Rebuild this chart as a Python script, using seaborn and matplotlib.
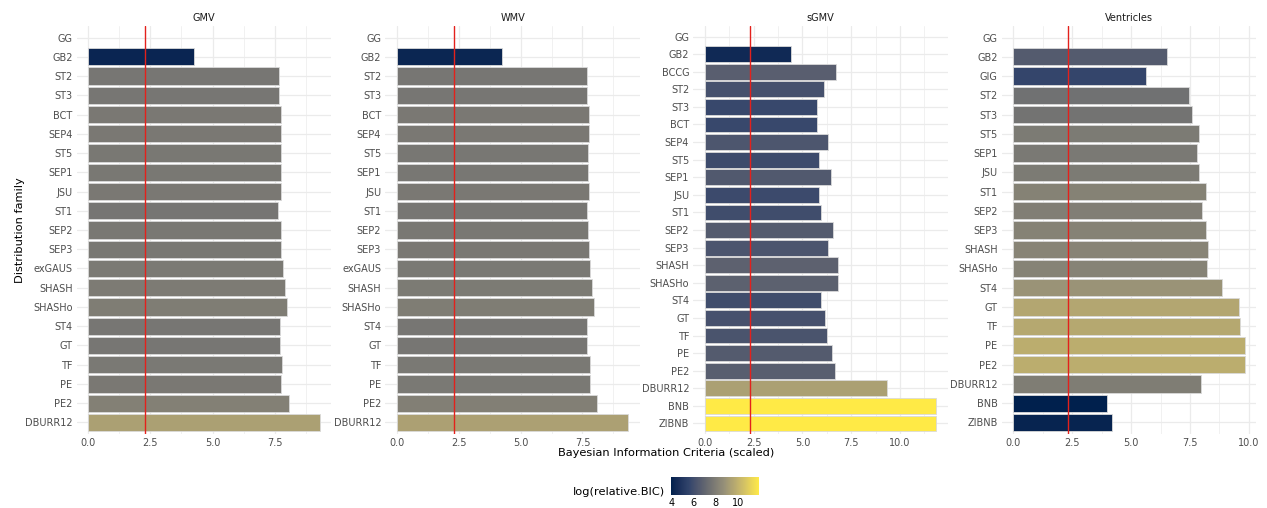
import numpy as np
import pandas as pd
import matplotlib
matplotlib.use("Agg")
import matplotlib.pyplot as plt
import seaborn as sns
from matplotlib.ticker import MultipleLocator, FormatStrFormatter
from matplotlib.colors import Normalize, ListedColormap, to_rgb
from matplotlib.cm import ScalarMappable

sns.set_theme(style="whitegrid")
plt.rcParams["font.family"] = ["DejaVu Sans"]

# Scaled BIC per distribution family, one list per brain measure (GG was not fitted)
gmv_families = ["GG", "GB2", "ST2", "ST3", "BCT", "SEP4", "ST5", "SEP1", "JSU", "ST1",
                "SEP2", "SEP3", "exGAUS", "SHASH", "SHASHo", "ST4", "GT", "TF", "PE",
                "PE2", "DBURR12"]
gmv_bic = [np.nan, 4.25, 7.68, 7.68, 7.77, 7.77, 7.74, 7.74, 7.77, 7.65,
           7.74, 7.74, 7.84, 7.90, 7.98, 7.70, 7.70, 7.80, 7.77, 8.08, 9.31]

wmv_families = gmv_families
wmv_bic = [np.nan, 4.26, 7.68, 7.68, 7.77, 7.77, 7.73, 7.73, 7.77, 7.68,
           7.74, 7.77, 7.82, 7.87, 7.96, 7.70, 7.70, 7.80, 7.80, 8.07, 9.35]

sgmv_families = ["GG", "GB2", "BCCG", "ST2", "ST3", "BCT", "SEP4", "ST5", "SEP1", "JSU",
                 "ST1", "SEP2", "SEP3", "SHASH", "SHASHo", "ST4", "GT", "TF", "PE",
                 "PE2", "DBURR12", "BNB", "ZIBNB"]
sgmv_bic = [np.nan, 4.40, 6.71, 6.11, 5.75, 5.75, 6.32, 5.87, 6.47, 5.84,
            5.96, 6.56, 6.30, 6.83, 6.80, 5.96, 6.15, 6.25, 6.54, 6.68,
            9.33, 11.86, 11.86]

vent_families = ["GG", "GB2", "GIG", "ST2", "ST3", "ST5", "SEP1", "JSU", "ST1", "SEP2",
                 "SEP3", "SHASH", "SHASHo", "ST4", "GT", "TF", "PE", "PE2", "DBURR12",
                 "BNB", "ZIBNB"]
vent_bic = [np.nan, 6.54, 5.64, 7.46, 7.58, 7.88, 7.81, 7.88, 8.18, 8.02,
            8.18, 8.28, 8.21, 8.86, 9.58, 9.62, 9.82, 9.82, 7.98, 3.98, 4.19]

measures = ["GMV", "WMV", "sGMV", "Ventricles"]
family_lists = [gmv_families, wmv_families, sgmv_families, vent_families]
bic_lists = [gmv_bic, wmv_bic, sgmv_bic, vent_bic]

# Reference line: log(10)
ref_line = np.log(10)


# Six-stop cividis gradient interpolated in CIE Lab space
def _srgb_to_lab(rgb):
    rgb = np.asarray(rgb, dtype=float)
    lin = np.where(rgb <= 0.04045, rgb / 12.92, ((rgb + 0.055) / 1.055) ** 2.4)
    M = np.array([[0.4124564, 0.3575761, 0.1804375],
                  [0.2126729, 0.7151522, 0.0721750],
                  [0.0193339, 0.1191920, 0.9503041]])
    xyz = lin @ M.T / np.array([0.95047, 1.0, 1.08883])
    f = np.where(xyz > (6 / 29) ** 3, np.cbrt(xyz), xyz / (3 * (6 / 29) ** 2) + 4 / 29)
    L = 116 * f[..., 1] - 16
    a = 500 * (f[..., 0] - f[..., 1])
    b = 200 * (f[..., 1] - f[..., 2])
    return np.stack([L, a, b], axis=-1)


def _lab_to_srgb(lab):
    L, a, b = lab[..., 0], lab[..., 1], lab[..., 2]
    fy = (L + 16) / 116
    fx = fy + a / 500
    fz = fy - b / 200
    f = np.stack([fx, fy, fz], axis=-1)
    d = 6 / 29
    xyz = np.where(f > d, f ** 3, 3 * d ** 2 * (f - 4 / 29))
    xyz = xyz * np.array([0.95047, 1.0, 1.08883])
    Minv = np.array([[3.2404542, -1.5371385, -0.4985314],
                     [-0.9692660, 1.8760108, 0.0415560],
                     [0.0556434, -0.2040259, 1.0572252]])
    lin = np.clip(xyz @ Minv.T, 0, 1)
    rgb = np.where(lin <= 0.0031308, 12.92 * lin, 1.055 * lin ** (1 / 2.4) - 0.055)
    return np.clip(rgb, 0, 1)


stops = ["#00204D", "#31446B", "#666970", "#958F78", "#CBBA69", "#FFEA46"]
stop_lab = _srgb_to_lab([to_rgb(c) for c in stops])
pos = np.linspace(0, 1, len(stops))
grid = np.linspace(0, 1, 256)
lab_grid = np.stack([np.interp(grid, pos, stop_lab[:, k]) for k in range(3)], axis=-1)
cmap = ListedColormap(_lab_to_srgb(lab_grid), name="cividis_lab")

all_vals = np.concatenate([np.array(v, dtype=float) for v in bic_lists])
norm = Normalize(vmin=np.nanmin(all_vals), vmax=np.nanmax(all_vals))

W, H = 1267, 508
fig = plt.figure(figsize=(W / 100, H / 100), dpi=100)

panel_lefts = [76.7, 385.3, 693.3, 1001.7]
panel_w = 254.5
panel_top, panel_bottom = 26.0, 434.0

grid_col = "#EBEBEB"
tick_col = "#4D4D4D"

for left, name, fams, vals in zip(panel_lefts, measures, family_lists, bic_lists):
    ax = fig.add_axes([left / W, 1 - panel_bottom / H, panel_w / W,
                       (panel_bottom - panel_top) / H])
    df = pd.DataFrame({"family": fams, "bic": vals})
    palette = {f: (cmap(norm(v)) if np.isfinite(v) else "#888888")
               for f, v in zip(fams, vals)}
    sns.barplot(data=df, x="bic", y="family", hue="family", order=fams,
                hue_order=fams, palette=palette, legend=False, width=0.9,
                edgecolor="#DADADA", linewidth=0.6, errorbar=None, ax=ax,
                saturation=1, zorder=2)
    ax.axvline(ref_line, color="#E3211C", lw=1.0, zorder=3)

    vmax = np.nanmax(np.array(vals, dtype=float))
    ax.set_xlim(-0.05 * vmax, 1.05 * vmax)
    ax.set_ylim(len(fams) - 0.4, -0.6)
    ax.xaxis.set_major_locator(MultipleLocator(2.5))
    ax.xaxis.set_minor_locator(MultipleLocator(1.25))
    ax.xaxis.set_major_formatter(FormatStrFormatter("%.1f"))
    ax.grid(which="major", axis="both", color=grid_col, lw=0.9, zorder=0)
    ax.grid(which="minor", axis="x", color=grid_col, lw=0.5, zorder=0)
    ax.set_axisbelow(True)
    for s in ax.spines.values():
        s.set_visible(False)
    ax.set_facecolor("white")
    ax.tick_params(axis="both", which="both", length=0, labelsize=7,
                   labelcolor=tick_col)
    ax.tick_params(axis="y", pad=3)
    ax.tick_params(axis="x", pad=3)
    ax.set_xlabel("")
    ax.set_ylabel("")
    ax.set_title(name, fontsize=7, color="#1A1A1A", pad=3.5)

fig.text(666.5 / W, 1 - 453 / H, "Bayesian Information Criteria (scaled)",
         ha="center", va="center", fontsize=8.2, color="black")
fig.text(20 / W, 1 - 230 / H, "Distribution family", rotation=90,
         ha="center", va="center", fontsize=8.2, color="black")

# Colour bar legend
cax = fig.add_axes([671 / W, 1 - 495 / H, 88 / W, 18 / H])
sm = ScalarMappable(norm=norm, cmap=cmap)
cb = fig.colorbar(sm, cax=cax, orientation="horizontal", ticks=[4, 6, 8, 10])
cb.outline.set_visible(False)
cax.tick_params(axis="x", direction="in", length=3.5, width=0.6, color="white",
                top=True, labelsize=7, labelcolor="black", pad=2)
fig.text(665 / W, 1 - 492 / H, "log(relative.BIC)", ha="right", va="center",
         fontsize=8.2, color="black")

fig.savefig("out.png", dpi=100, facecolor="white")
